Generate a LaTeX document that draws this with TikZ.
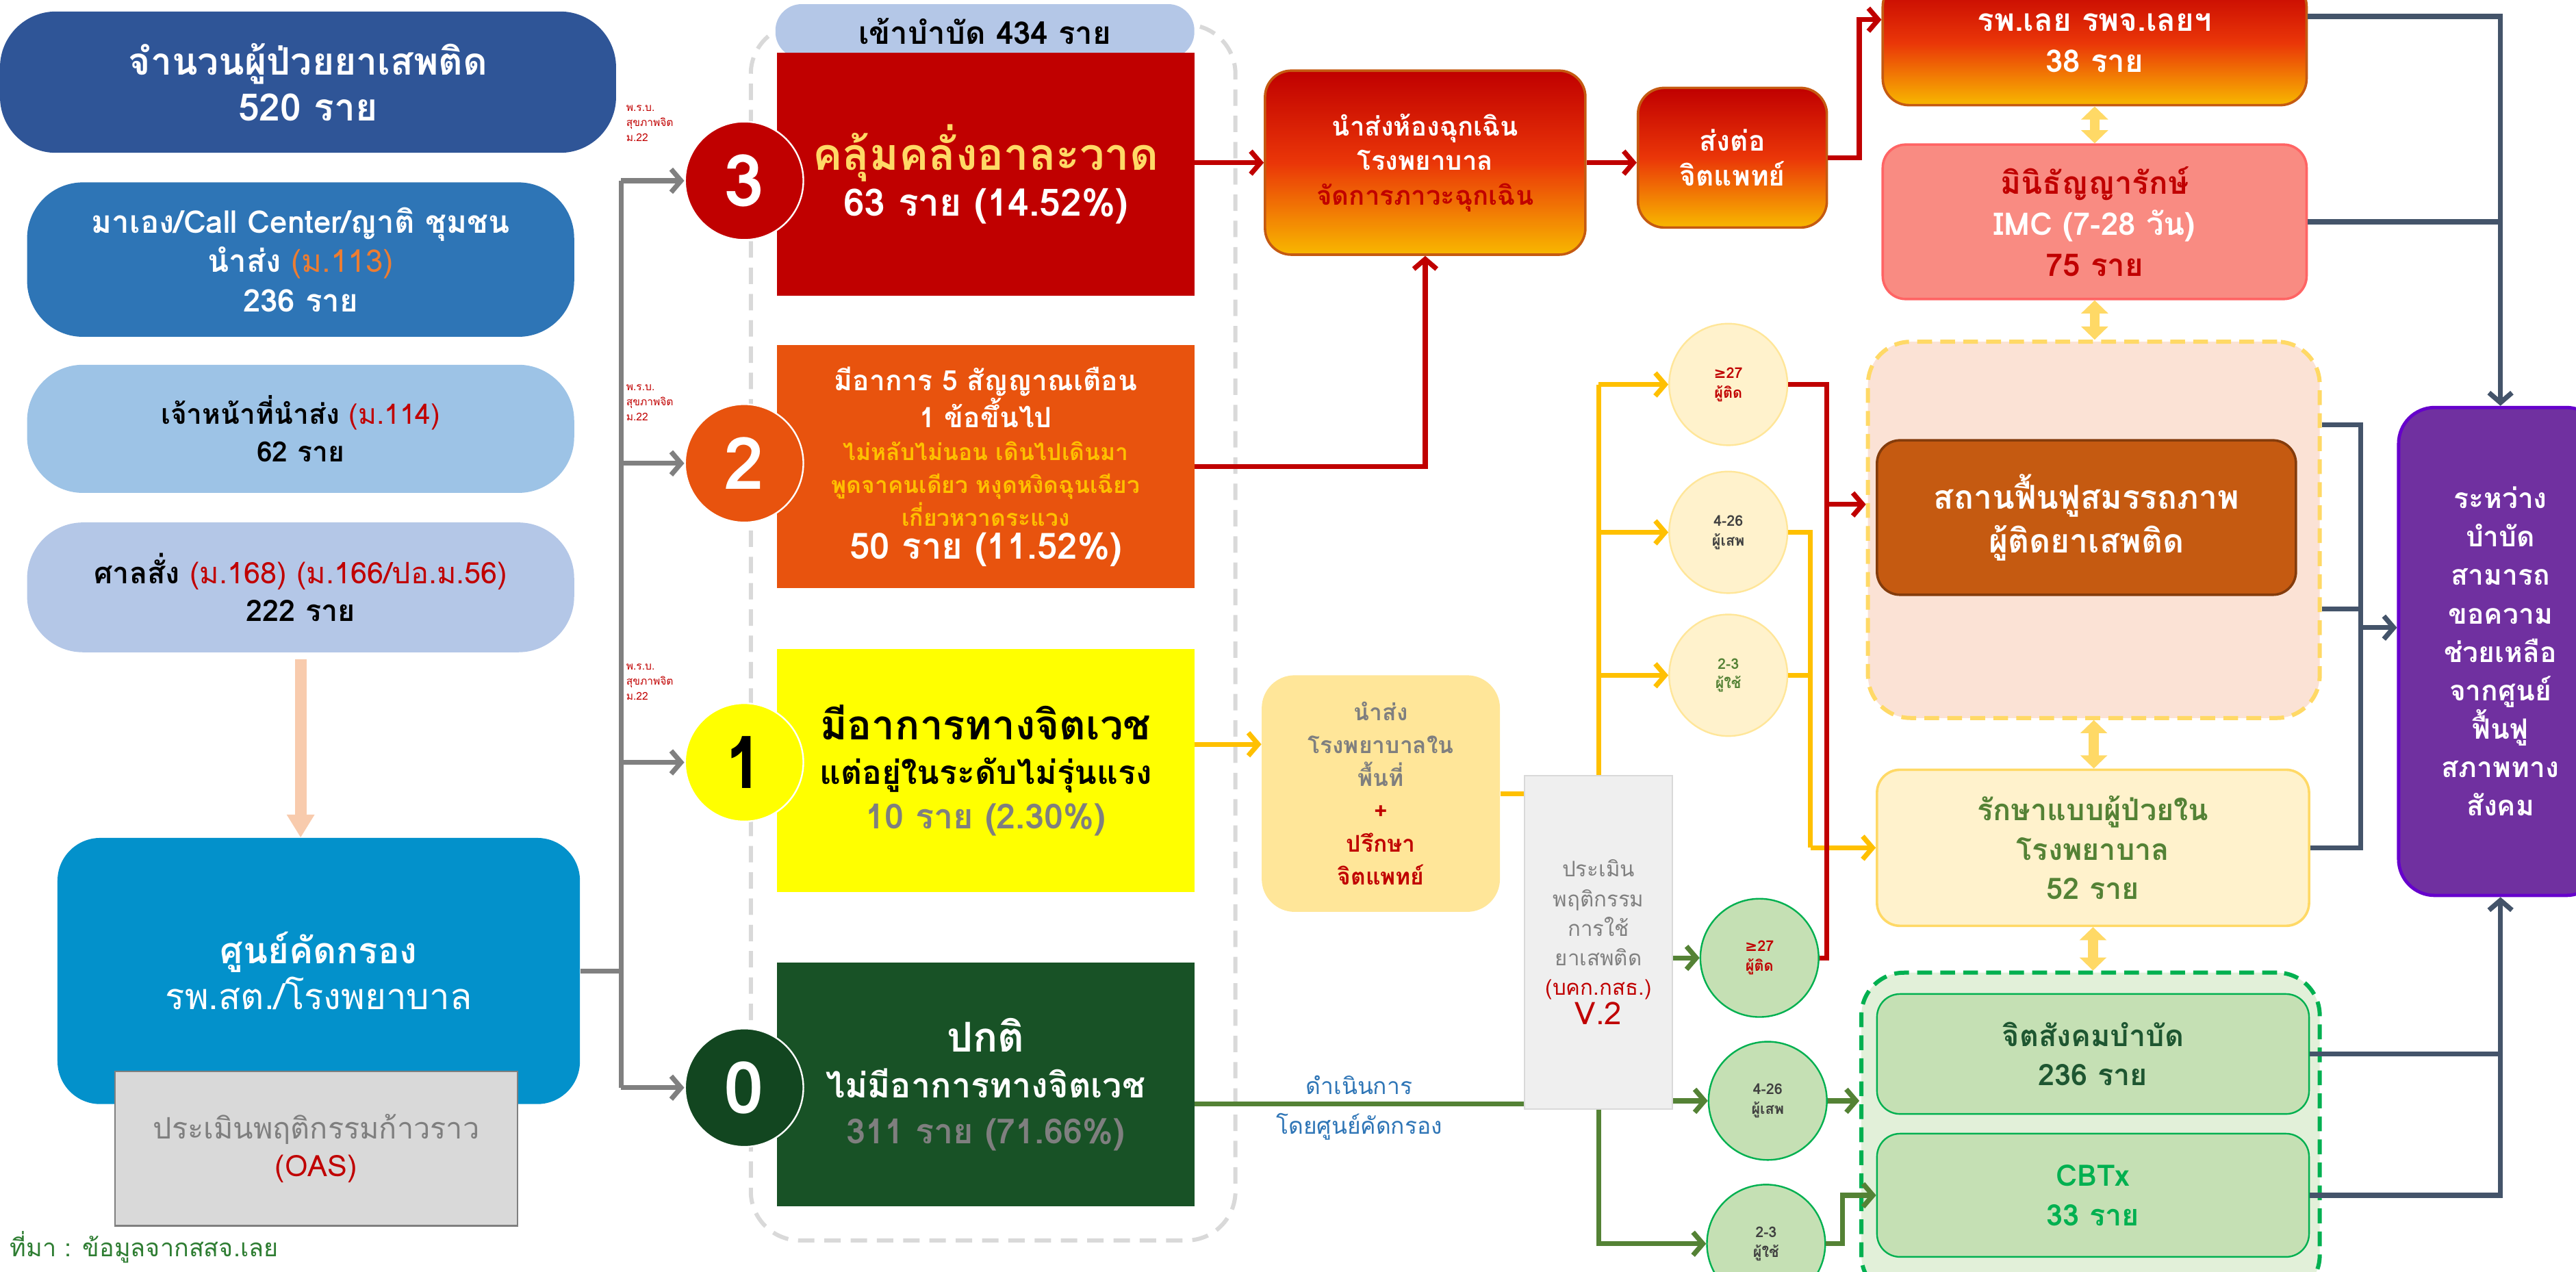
\documentclass[tikz,border=0pt]{standalone}
\usepackage{fontspec}
\setmainfont[Script=Thai]{Loma}
\newfontfamily\symfont{DejaVu Sans}
\usetikzlibrary{arrows.meta,shapes.geometric}

\definecolor{navy}{HTML}{2F5597}
\definecolor{midblue}{HTML}{2E75B6}
\definecolor{skyblue}{HTML}{9DC3E6}
\definecolor{paleblue}{HTML}{B4C7E7}
\definecolor{screenblue}{HTML}{0391CB}
\definecolor{peach}{HTML}{F8CBAD}
\definecolor{oasfill}{HTML}{D9D9D9}
\definecolor{numgray}{HTML}{7F7F7F}
\definecolor{lawred}{HTML}{C00000}
\definecolor{laworange}{HTML}{ED7D31}
\definecolor{lvlthree}{HTML}{C00000}
\definecolor{lvltwo}{HTML}{E8530E}
\definecolor{lvlone}{HTML}{FFFF00}
\definecolor{lvlzero}{HTML}{185226}
\definecolor{lvlzerodark}{HTML}{124620}
\definecolor{goldtxt}{HTML}{FFD966}
\definecolor{ambtxt}{HTML}{FFC000}
\definecolor{gradtop}{HTML}{C00000}
\definecolor{gradmid}{HTML}{EA3608}
\definecolor{gradbot}{HTML}{F8B800}
\definecolor{burnt}{HTML}{C55A11}
\definecolor{imcfill}{HTML}{F98B82}
\definecolor{imcline}{HTML}{FF6464}
\definecolor{rehabfill}{HTML}{FBE2D5}
\definecolor{softyellow}{HTML}{FFD966}
\definecolor{brownline}{HTML}{843C0C}
\definecolor{creamfill}{HTML}{FFF2CC}
\definecolor{olive}{HTML}{548235}
\definecolor{mintfill}{HTML}{E2F0D9}
\definecolor{sagefill}{HTML}{C5E0B4}
\definecolor{brightgreen}{HTML}{00B050}
\definecolor{deepgreen}{HTML}{1E5631}
\definecolor{purplefill}{HTML}{7030A0}
\definecolor{purpleline}{HTML}{6600CC}
\definecolor{slate}{HTML}{44546A}
\definecolor{linegray}{HTML}{808080}
\definecolor{framegray}{HTML}{D9D9D9}
\definecolor{reffill}{HTML}{FFE699}
\definecolor{asmfill}{HTML}{EFEFEF}
\definecolor{footgreen}{HTML}{2E7D32}

\newcommand{\fsz}[2]{\fontsize{#1}{#2}\selectfont}

\tikzset{
  srcbox/.style={rounded corners=34pt, inner sep=0pt, align=center, font=\bfseries\fsz{17}{23}},
  lvlbox/.style={minimum width=254pt, minimum height=148pt, inner sep=0pt, align=center},
  lvlnum/.style={circle, minimum size=72pt, inner sep=0pt, draw=white, line width=1pt, font=\bfseries\fsz{44}{44}},
  lawnote/.style={anchor=north west, inner sep=0pt, align=left, text=lawred, font=\fsz{6.5}{9}},
  gradbox/.style={draw=burnt, line width=1.5pt, rounded corners=16pt, top color=gradtop, bottom color=gradbot, middle color=gradmid, inner sep=0pt, align=center, text=white, font=\bfseries\fsz{16}{21}},
  stepbox/.style={rounded corners=14pt, inner sep=0pt, align=center, line width=1.5pt, font=\bfseries\fsz{18}{24}},
  yelscore/.style={ellipse, minimum width=72pt, minimum height=74pt, inner sep=0pt, fill=creamfill, draw=reffill, line width=1pt, align=center, font=\bfseries\fsz{9}{12}},
  grnscore/.style={circle, minimum size=72pt, inner sep=0pt, fill=sagefill, draw=brightgreen, line width=1pt, align=center, font=\bfseries\fsz{9}{12}},
  grayarr/.style={draw=linegray, line width=3pt, -{Straight Barb[length=6pt,width=14pt]}},
  redarr/.style={draw=lawred, line width=3pt, -{Straight Barb[length=6pt,width=14pt]}},
  redln/.style={draw=lawred, line width=3pt},
  yelarr/.style={draw=ambtxt, line width=3pt, -{Straight Barb[length=6pt,width=14pt]}},
  yelln/.style={draw=ambtxt, line width=3pt},
  grnarr/.style={draw=olive, line width=3pt, -{Straight Barb[length=6pt,width=14pt]}},
  grnln/.style={draw=olive, line width=3pt},
  slatearr/.style={draw=slate, line width=3pt, -{Straight Barb[length=6pt,width=14pt]}},
  slateln/.style={draw=slate, line width=3pt},
  dblarr/.style={draw=softyellow, line width=6pt, {Triangle[width=16pt,length=8pt]}-{Triangle[width=16pt,length=8pt]}}
}

\begin{document}
\begin{tikzpicture}[x=1pt,y=-1pt]
  \useasboundingbox (0,0) rectangle (1568,774);
  \clip (0,0) rectangle (1568,774);

  % Source boxes on the left
  \node[srcbox, fill=navy, text=white, minimum width=375pt, minimum height=86pt, font=\bfseries\fsz{23}{28}] (total) at (187.5,50) {จำนวนผู้ป่วยยาเสพติด\\520 ราย};
  \node[srcbox, fill=midblue, text=white, minimum width=333pt, minimum height=94pt, font=\bfseries\fsz{19}{24}] (self) at (183,158) {มาเอง/Call Center/ญาติ ชุมชน\\นำส่ง {\mdseries\color{laworange}(ม.113)}\\236 ราย};
  \node[srcbox, fill=skyblue, text=black, minimum width=333pt, minimum height=78pt] (staff) at (183,261) {เจ้าหน้าที่นำส่ง {\mdseries\color{lawred}(ม.114)}\\62 ราย};
  \node[srcbox, fill=paleblue, text=black, minimum width=333pt, minimum height=79pt, font=\bfseries\fsz{18}{23}] (court) at (183,357.5) {ศาลสั่ง {\mdseries\color{lawred}(ม.168) (ม.166/ปอ.ม.56)}\\222 ราย};

  % Screening centre
  \node[rounded corners=26pt, fill=screenblue, text=white, minimum width=318pt, minimum height=162pt, inner sep=0pt, align=center, font=\fsz{22}{28}] (screen) at (194,591) {{\bfseries ศูนย์คัดกรอง}\\รพ.สต./โรงพยาบาล};
  \node[fill=oasfill, draw=numgray, line width=1pt, text=numgray, minimum width=245pt, minimum height=94pt, inner sep=0pt, align=center, font=\fsz{18}{23}] (oas) at (192.5,699) {ประเมินพฤติกรรมก้าวราว\\{\color{lawred}(OAS)}};
  \draw[draw=peach, line width=7pt, shorten <=4pt, -{Triangle[width=16pt,length=14pt]}] (court.south) -- (court.south |- screen.north);
  \node[anchor=west, inner sep=0pt, text=footgreen, font=\fsz{15}{17}] (source) at (6,759) {ที่มา : ข้อมูลจากสสจ.เลย};

  % Treatment frame and levels
  \node[draw=framegray, dash pattern=on 10pt off 6pt, line width=2.5pt, rounded corners=30pt, minimum width=295pt, minimum height=740pt] (frame) at (604.5,385) {};
  \node[fill=paleblue, rounded corners=16pt, minimum width=255pt, minimum height=33pt, inner sep=0pt, font=\bfseries\fsz{19}{20}] (intake) at (599.5,19) {เข้าบำบัด 434 ราย};
  \node[lvlbox, fill=lvlthree, text=white, font=\bfseries\fsz{23}{28}] (lvl3) at (600,106) {{\color{goldtxt}\fsz{27}{28}คลุ้มคลั่งอาละวาด}\\63 ราย (14.52\%)};
  \node[lvlbox, fill=lvltwo, text=white, font=\bfseries\fsz{17}{20}] (lvl2) at (600,284) {มีอาการ 5 สัญญาณเตือน\\1 ข้อขึ้นไป\\{\color{ambtxt}\fsz{14}{18}ไม่หลับไม่นอน เดินไปเดินมา}\\{\color{ambtxt}\fsz{14}{18}พูดจาคนเดียว หงุดหงิดฉุนเฉียว}\\{\color{ambtxt}\fsz{14}{18}เกี่ยวหวาดระแวง}\\{\fsz{22}{27}50 ราย (11.52\%)}};
  \node[lvlbox, fill=lvlone, text=black, font=\bfseries\fsz{20}{27}] (lvl1) at (600,469) {{\fsz{25}{27}มีอาการทางจิตเวช}\\แต่อยู่ในระดับไม่รุ่นแรง\\{\color{numgray}\fsz{21}{27}10 ราย (2.30\%)}};
  \node[lvlbox, fill=lvlzero, text=white, font=\bfseries\fsz{21}{28}] (lvl0) at (600,660) {{\fsz{25}{30}ปกติ}\\ไม่มีอาการทางจิตเวช\\{\color{numgray}311 ราย (71.66\%)}};

  % Level circles
  \node[lvlnum, fill=lvlthree, text=white] (c3) at (453,110) {3};
  \node[lvlnum, fill=lvltwo, text=white] (c2) at (453,282) {2};
  \node[lvlnum, fill=lvlone, text=black] (c1) at (453,464) {1};
  \node[lvlnum, fill=lvlzerodark, text=white] (c0) at (453,662) {0};

  % Gray branches from screening
  \coordinate (t3) at (378,110);
  \coordinate (t0) at (378,662);
  \draw[draw=linegray, line width=3pt] (screen.east) -- (screen.east -| t3);
  \draw[draw=linegray, line width=3pt] (t3) -- (t0);
  \draw[grayarr] (t3) -- (c3.west);
  \draw[grayarr] (t3 |- c2) -- (c2.west);
  \draw[grayarr] (t3 |- c1) -- (c1.west);
  \draw[grayarr] (t0) -- (c0.west);
  \node[lawnote] (law3) at (381,64) {พ.ร.บ.\\สุขภาพจิต\\ม.22};
  \node[lawnote] (law2) at (381,234) {พ.ร.บ.\\สุขภาพจิต\\ม.22};
  \node[lawnote] (law1) at (381,404) {พ.ร.บ.\\สุขภาพจิต\\ม.22};

  % Emergency path
  \node[gradbox, minimum width=195pt, minimum height=112pt] (emer) at (867.5,99) {นำส่งห้องฉุกเฉิน\\โรงพยาบาล\\{\color{lawred}จัดการภาวะฉุกเฉิน}};
  \node[gradbox, minimum width=115pt, minimum height=85pt, font=\bfseries\fsz{17}{21}] (psych) at (1054.5,96) {ส่งต่อ\\จิตแพทย์};
  \node[gradbox, minimum width=258pt, minimum height=76pt, font=\bfseries\fsz{19}{25}] (loei) at (1275,26) {รพ.เลย รพจ.เลยฯ\\38 ราย};
  \draw[redarr] (emer.west -| lvl3.east) -- (emer.west);
  \draw[redarr] (lvl2.east) -| (emer.south);
  \draw[redarr] (emer.east) -- (emer.east -| psych.west);
  \draw[redarr] (psych.east) -- ++(19,0) |- ([yshift=14pt]loei.west);

  % Right column
  \node[stepbox, fill=imcfill, draw=imcline, text=white, minimum width=258pt, minimum height=94pt, font=\bfseries\fsz{19}{25}] (imc) at (1275,135) {{\color{lawred}มินิธัญญารักษ์}\\IMC (7-28 วัน)\\{\color{lawred}75 ราย}};
  \node[rounded corners=26pt, fill=rehabfill, draw=softyellow, dash pattern=on 9pt off 5pt, line width=2.5pt, minimum width=275pt, minimum height=229pt] (rehab) at (1274.5,322.5) {};
  \node[stepbox, fill=burnt, draw=brownline, text=white, minimum width=255pt, minimum height=94pt, font=\bfseries\fsz{20}{27}] (center) at (1270,315) {สถานฟื้นฟูสมรรถภาพ\\ผู้ติดยาเสพติด};
  \node[stepbox, fill=creamfill, draw=softyellow, text=olive, minimum width=263pt, minimum height=95pt] (inpat) at (1274,516) {รักษาแบบผู้ป่วยใน\\โรงพยาบาล\\52 ราย};
  \node[rounded corners=26pt, fill=mintfill, draw=brightgreen, dash pattern=on 9pt off 5pt, line width=2.5pt, minimum width=279pt, minimum height=198pt] (commun) at (1272.5,691) {};
  \node[stepbox, fill=sagefill, draw=brightgreen, text=deepgreen, line width=1pt, minimum width=263pt, minimum height=73pt] (psysoc) at (1274,641.5) {จิตสังคมบำบัด\\236 ราย};
  \node[stepbox, fill=sagefill, draw=brightgreen, text=brightgreen, line width=1pt, minimum width=263pt, minimum height=75pt] (cbtx) at (1274,727.5) {CBTx\\33 ราย};
  \node[rounded corners=22pt, fill=purplefill, draw=purpleline, line width=2pt, text=white, minimum width=124pt, minimum height=297pt, inner sep=0pt, align=center, font=\bfseries\fsz{17}{23.4}] (social) at (1522,396.5) {ระหว่าง\\บำบัด\\สามารถ\\ขอความ\\ช่วยเหลือ\\จากศูนย์\\ฟื้นฟู\\สภาพทาง\\สังคม};
  \draw[dblarr] (loei.south) -- (imc.north);
  \draw[dblarr] (imc.south) -- (imc.south |- rehab.north);
  \draw[dblarr] (rehab.south) -- (rehab.south |- inpat.north);
  \draw[dblarr] (inpat.south) -- (inpat.south |- commun.north);

  % Slate links to the purple box
  \coordinate (mj) at (1437,382);
  \draw[slatearr] ([yshift=16pt]loei.east) -| (social.north);
  \draw[slateln] (imc.east) -- (imc.east -| social.north);
  \draw[slateln] ([yshift=64pt]rehab.east) -| (mj);
  \draw[slateln] ([yshift=-48pt]rehab.east) -- ([yshift=-48pt]rehab.east -| mj);
  \draw[slateln] (inpat.east) -| (mj);
  \draw[slatearr] (mj) -- (mj -| social.west);
  \draw[slatearr] (cbtx.east) -| (social.south);
  \draw[slateln] (psysoc.east) -- (psysoc.east -| social.south);

  % Level 1 path
  \node[rounded corners=20pt, fill=reffill, inner sep=0pt, minimum width=145pt, minimum height=144pt, align=center, text=numgray, font=\bfseries\fsz{14}{20}] (refer) at (840.5,483) {นำส่ง\\โรงพยาบาลใน\\พื้นที่\\{\color{lawred}+}\\{\color{lawred}ปรึกษา}\\{\color{lawred}จิตแพทย์}};
  \node[fill=asmfill, draw=framegray, line width=1pt, inner sep=0pt, minimum width=90pt, minimum height=203pt, align=center, text=linegray, font=\fsz{13}{18}] (assess) at (973,573.5) {ประเมิน\\พฤติกรรม\\การใช้\\ยาเสพติด\\{\color{lawred}(บคก.กสธ.)}\\{\color{lawred}\fsz{19}{19}V.2}};
  \draw[yelarr] ([yshift=16pt]lvl1.east) -- ([yshift=16pt]lvl1.east -| refer.west);
  \draw[yelln] (refer.east) -- (refer.east -| assess.west);

  % Score circles
  \node[yelscore, text=lawred] (y27) at (1052,234) {{\symfont ≥}27\\ผู้ติด};
  \node[yelscore, text=black!75] (y426) at (1052,324) {4-26\\ผู้เสพ};
  \node[yelscore, text=olive] (y23) at (1052,411) {2-3\\ผู้ใช้};
  \node[grnscore, text=lawred] (g27) at (1071,583) {{\symfont ≥}27\\ผู้ติด};
  \node[grnscore, text=black!75] (g426) at (1076,670) {4-26\\ผู้เสพ};
  \node[grnscore, text=black!75] (g23) at (1075,757) {2-3\\ผู้ใช้};

  % Yellow branches
  \coordinate (yj) at (1102,516);
  \draw[yelln] (assess.north) -- (assess.north |- y27);
  \draw[yelarr] (assess.north |- y27) -- (y27.west);
  \draw[yelarr] (assess.north |- y426) -- (y426.west);
  \draw[yelarr] (assess.north |- y23) -- (y23.west);
  \draw[yelln] (y426.east) -| (yj);
  \draw[yelln] (y23.east) -- (y23.east -| yj);
  \draw[yelarr] (yj) -- (inpat.west);

  % Red link to rehab centre
  \coordinate (rj) at (1112,307);
  \draw[redln] (y27.east) -| (g27.east -| rj) -- (g27.east);
  \draw[redarr] (rj) -- (rj -| rehab.west);

  % Green branches
  \draw[grnln] ([yshift=-12pt]lvl0.east) -- ([yshift=-12pt]lvl0.east -| assess.west)
    node[midway, above=1pt, text=midblue, font=\fsz{14}{16}] {ดำเนินการ}
    node[midway, below=1pt, text=midblue, font=\fsz{14}{16}] {โดยศูนย์คัดกรอง};
  \draw[grnarr] (assess.east |- g27) -- (g27.west);
  \draw[grnarr] (assess.east |- g426) -- (g426.west);
  \draw[grnarr] (assess.south) |- (g23.west);
  \draw[grnarr] (g426.east) -- (g426.east -| commun.west);
  \draw[grnarr] (g23.east) -- ++(10,0) |- (cbtx.west);
\end{tikzpicture}
\end{document}
